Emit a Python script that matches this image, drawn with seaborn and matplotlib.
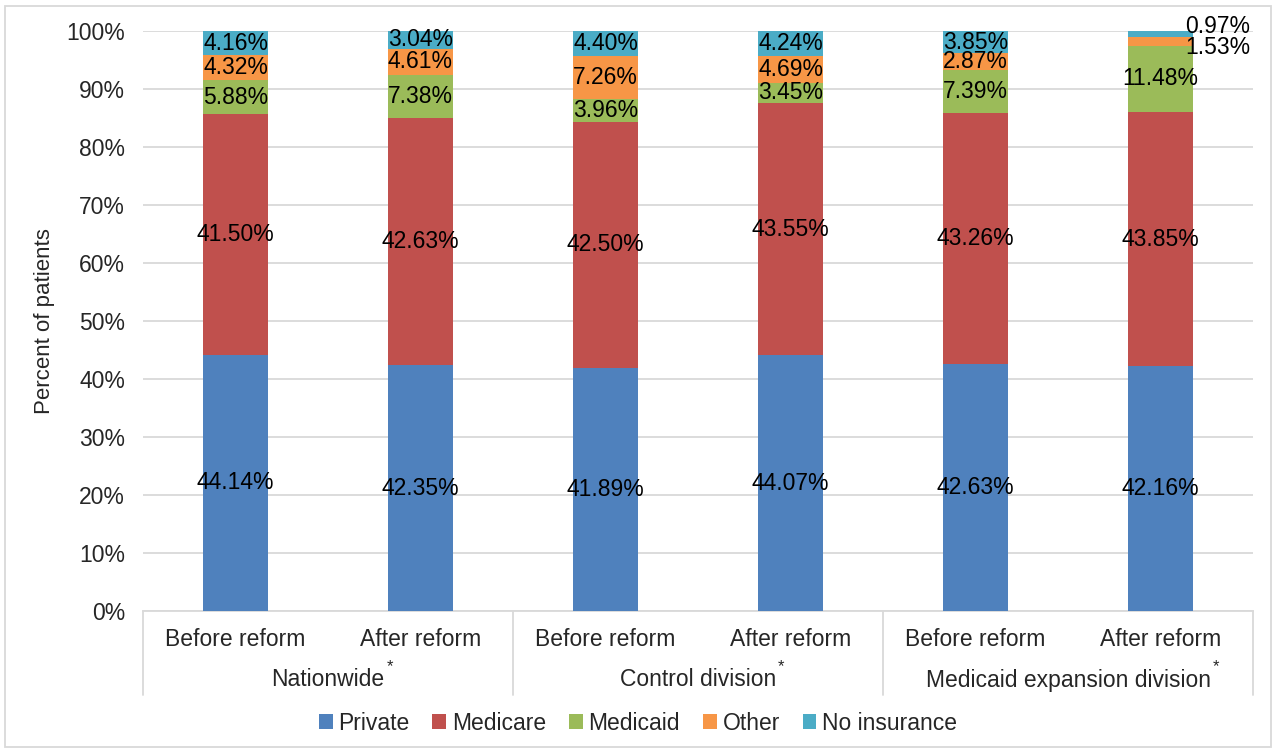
import numpy as np
import pandas as pd
import matplotlib
matplotlib.use("Agg")
import matplotlib.pyplot as plt
import seaborn as sns
from matplotlib.patches import Rectangle

# Data
groups = ["Nationwide", "Control division", "Medicaid expansion division"]
periods = ["Before reform", "After reform"]
series = ["Private", "Medicare", "Medicaid", "Other", "No insurance"]
private = [44.14, 42.35, 41.89, 44.07, 42.63, 42.16]
medicare = [41.50, 42.63, 42.50, 43.55, 43.26, 43.85]
medicaid = [5.88, 7.38, 3.96, 3.45, 7.39, 11.48]
other = [4.32, 4.61, 7.26, 4.69, 2.87, 1.53]
no_insurance = [4.16, 3.04, 4.40, 4.24, 3.85, 0.97]
colors = ["#4F81BD", "#C0504D", "#9BBB59", "#F79646", "#4BACC6"]

values = np.array([private, medicare, medicaid, other, no_insurance])
keys = [f"{g}|{p}" for g in groups for p in periods]
cum = values.cumsum(axis=0)

sns.set_style("white")
plt.rcParams["font.family"] = ["Liberation Sans", "DejaVu Sans"]

fig = plt.figure(figsize=(12.76, 7.5), dpi=100)
ax = fig.add_axes([143 / 1276, 1 - 611 / 750, 1110 / 1276, 580 / 750])

# stacked bars: draw cumulative totals from top series down
for i in range(len(series) - 1, -1, -1):
    df = pd.DataFrame({"key": keys, "val": cum[i]})
    sns.barplot(data=df, x="key", y="val", order=keys, color=colors[i],
                width=0.35, saturation=1, ax=ax, zorder=3, label=series[i],
                linewidth=0, edgecolor="none")

# data labels
for j in range(len(keys)):
    for i in range(len(series)):
        mid = cum[i, j] - values[i, j] / 2
        x = j
        if j == 5 and i == 3:
            x, mid = j + 0.31, 97.2
        if j == 5 and i == 4:
            x, mid = j + 0.31, 100.7
        ax.text(x, mid, f"{values[i, j]:.2f}%", ha="center", va="center",
                fontsize=16.5, color="black", zorder=5)

ax.set_ylim(0, 100)
ax.set_xlim(-0.5, 5.5)
ax.set_yticks(np.arange(0, 101, 10))
ax.set_yticklabels([f"{v}%" for v in range(0, 101, 10)], fontsize=16.5)
ax.yaxis.grid(True, color="#D9D9D9", linewidth=1.3, zorder=0)
ax.set_axisbelow(True)
ax.tick_params(axis="y", length=0, pad=13)
ax.tick_params(axis="x", length=0, pad=12)
ax.set_xticks(range(6))
ax.set_xticklabels([k.split("|")[1] for k in keys], fontsize=16.5)
ax.set_xlabel("")
ax.set_ylabel("Percent of patients", fontsize=16, labelpad=8)
for s in ["left", "right", "top"]:
    ax.spines[s].set_visible(False)
ax.spines["bottom"].set_color("#D9D9D9")
ax.spines["bottom"].set_linewidth(1.3)

# group separators and group labels
sep_bottom = -(695 - 611) / 580
for xs in [-0.5, 1.5, 3.5, 5.5]:
    ax.plot([xs, xs], [0, sep_bottom], transform=ax.get_xaxis_transform(),
            color="#D9D9D9", linewidth=1.3, clip_on=False)
fig.canvas.draw()
renderer = fig.canvas.get_renderer()
for k, g in enumerate(groups):
    t = ax.text(2 * k + 0.5, -(680 - 611) / 580, g, transform=ax.get_xaxis_transform(),
                ha="center", va="center", fontsize=16.5)
    bb = t.get_window_extent(renderer=renderer)
    fig.text((bb.x1 + 2) / fig.bbox.width, 1 - 667 / 750, "*", ha="left", va="center",
             fontsize=12)

# legend
handles, labels = ax.get_legend_handles_labels()
order = [labels.index(s) for s in series]
leg = fig.legend([handles[o] for o in order], series, loc="center",
                 bbox_to_anchor=(0.5, 1 - 723 / 750), ncol=5, frameon=False,
                 fontsize=16.5, handlelength=0.6, handleheight=0.6,
                 handletextpad=0.25, columnspacing=1.0)
if ax.get_legend() is not None:
    ax.get_legend().remove()

fig.patches.append(Rectangle((5 / 1276, 3 / 750), 1266 / 1276, 741 / 750,
                             transform=fig.transFigure, fill=False,
                             edgecolor="#D9D9D9", linewidth=1.3))

fig.savefig("out.png", dpi=100)
